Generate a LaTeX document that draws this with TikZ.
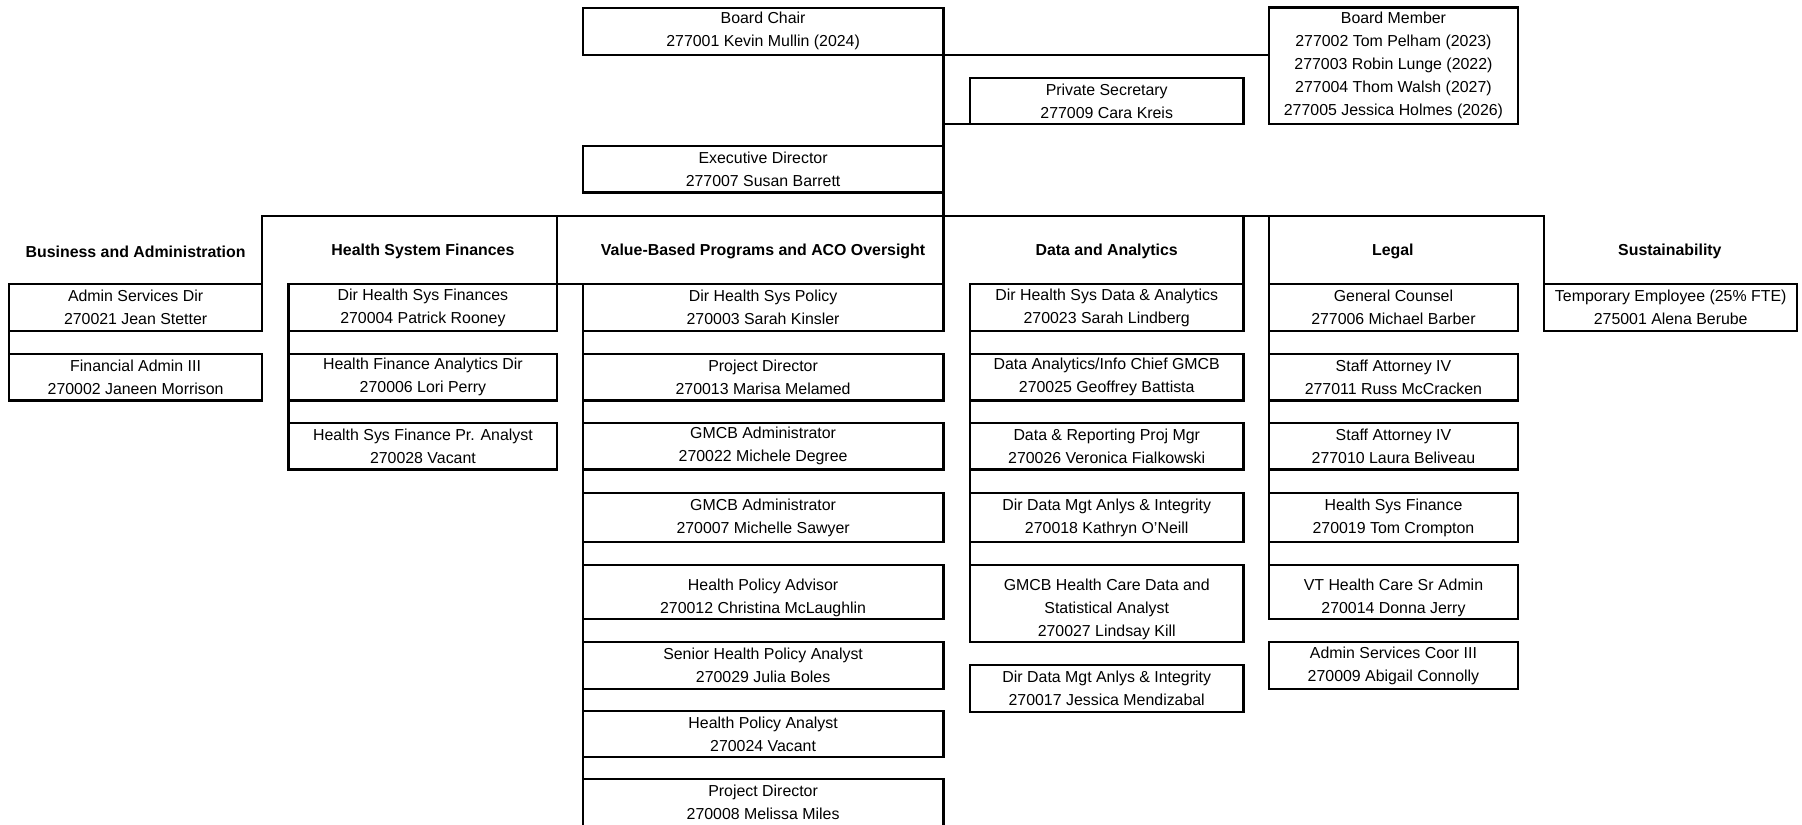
\documentclass[tikz,border=0pt]{standalone}
\usepackage{fontspec}
\setmainfont{Liberation Sans}

\begin{document}
\begin{tikzpicture}[x=0.6pt, y=-0.6pt,
box/.style={draw, line width=1.1pt, anchor=north west, outer sep=0pt, inner sep=1pt,
              minimum height=24.3pt, align=center, font=\fontsize{8.3}{12}\selectfont},
head/.style={font=\fontsize{8.3}{12}\selectfont\bfseries},
lnk/.style={line width=1.1pt, line cap=rect},
wA/.style={minimum width=132pt},
wC/.style={minimum width=140.4pt},
wE/.style={minimum width=188.4pt},
wG/.style={minimum width=142.8pt},
wI/.style={minimum width=129.6pt},
wK/.style={minimum width=132.3pt},
]
\useasboundingbox (0,0) rectangle (1568,717);
\clip (0,0) rectangle (1568,717);

\node[box, wE] (chair) at (507,7) {Board Chair \\ 277001 Kevin Mullin (2024)};
\node[box, wI, minimum height=60.9pt] (board) at (1104.5,6.5) {Board Member \\ 277002 Tom Pelham (2023) \\ 277003 Robin Lunge (2022) \\ 277004 Thom Walsh (2027) \\ 277005 Jessica Holmes (2026)};
\node[box, wG] (secy) at (844,67.5) {Private Secretary \\ 277009 Cara Kreis};
\node[box, wE] (exec) at (507,127) {Executive Director \\ 277007 Susan Barrett};

\node[head] (hA) at (118,219) {Business and Administration};
\node[head] (hC) at (368,219) {Health System Finances};
\node[head] (hE) at (664,219) {Value-Based Programs and ACO Oversight};
\node[head] (hG) at (963,219) {Data and Analytics};
\node[head] (hI) at (1212,219) {Legal};
\node[head] (hK) at (1453,219) {Sustainability};

\node[box, wA] (a1) at (8,247.5) {Admin Services Dir \\ 270021 Jean Stetter};
\node[box, wA] (a2) at (8,308) {Financial Admin III \\ 270002 Janeen Morrison};

\node[box, wC] (c1) at (251,247.5) {Dir Health Sys Finances \\ 270004 Patrick Rooney};
\node[box, wC] (c2) at (251,308) {Health Finance Analytics Dir \\ 270006 Lori Perry};
\node[box, wC] (c3) at (251,368) {Health Sys Finance Pr. Analyst \\ 270028 Vacant};

\node[box, wE] (e1) at (507,247.5) {Dir Health Sys Policy \\ 270003 Sarah Kinsler};
\node[box, wE] (e2) at (507,308) {Project Director \\ 270013 Marisa Melamed};
\node[box, wE] (e3) at (507,368) {GMCB Administrator \\ 270022 Michele Degree};
\node[box, wE, minimum height=25.5pt] (e4) at (507,429) {GMCB Administrator \\ 270007 Michelle Sawyer};
\node[box, wE, minimum height=28.2pt] (e5) at (507,491.5) {\rule{0pt}{12pt}Health Policy Advisor \\ 270012 Christina McLaughlin};
\node[box, wE] (e6) at (507,559) {Senior Health Policy Analyst \\ 270029 Julia Boles};
\node[box, wE, minimum height=23.7pt] (e7) at (507,619) {Health Policy Analyst \\ 270024 Vacant};
\node[box, wE, minimum height=24.6pt] (e8) at (507,678) {Project Director \\ 270008 Melissa Miles};

\node[box, wG] (g1) at (844,247.5) {Dir Health Sys Data \& Analytics \\ 270023 Sarah Lindberg};
\node[box, wG] (g2) at (844,308) {Data Analytics/Info Chief GMCB \\ 270025 Geoffrey Battista};
\node[box, wG] (g3) at (844,368) {Data \& Reporting Proj Mgr \\ 270026 Veronica Fialkowski};
\node[box, wG, minimum height=25.5pt] (g4) at (844,429) {Dir Data Mgt Anlys \& Integrity \\ 270018 Kathryn O'Neill};
\node[box, wG, minimum height=40.5pt] (g5) at (844,491.5) {\rule{0pt}{12pt}GMCB Health Care Data and \\ Statistical Analyst \\ 270027 Lindsay Kill};
\node[box, wG] (g6) at (844,579) {Dir Data Mgt Anlys \& Integrity \\ 270017 Jessica Mendizabal};

\node[box, wI] (i1) at (1104.5,247.5) {General Counsel \\ 277006 Michael Barber};
\node[box, wI] (i2) at (1104.5,308) {Staff Attorney IV \\ 277011 Russ McCracken};
\node[box, wI] (i3) at (1104.5,368) {Staff Attorney IV \\ 277010 Laura Beliveau};
\node[box, wI, minimum height=25.5pt] (i4) at (1104.5,429) {Health Sys Finance \\ 270019 Tom Crompton};
\node[box, wI, minimum height=28.2pt] (i5) at (1104.5,491.5) {\rule{0pt}{12pt}VT Health Care Sr Admin \\ 270014 Donna Jerry};
\node[box, wI] (i6) at (1104.5,559) {Admin Services Coor III \\ 270009 Abigail Connolly};

\node[box, wK] (k1) at (1343.5,247.5) {Temporary Employee (25\% FTE) \\ 275001 Alena Berube};

\coordinate (bus) at (821,188);
\draw[lnk] (chair.north east) -- (e1.north east);
\draw[lnk] (chair.south east) -- (chair.south east -| board.west);
\draw[lnk] (secy.south west) -- (secy.south west -| chair.east);
\draw[lnk] (a1.north east |- bus) -- (k1.north west |- bus);
\draw[lnk] (a1.north east |- bus) -- (a1.north east);
\draw[lnk] (c1.north east |- bus) -- (c1.north east) -- (e1.north west);
\draw[lnk] (g1.north east |- bus) -- (g1.north east);
\draw[lnk] (i1.north west |- bus) -- (i1.north west);
\draw[lnk] (k1.north west |- bus) -- (k1.north west);
\draw[lnk] (a1.north west) -- (a2.south west);
\draw[lnk] (c1.north west) -- (c3.south west);
\draw[lnk] (e1.north west) -- (e8.south west);
\draw[lnk] (g1.north west) -- (g5.south west);
\draw[lnk] (i1.north west) -- (i5.south west);
\end{tikzpicture}
\end{document}
